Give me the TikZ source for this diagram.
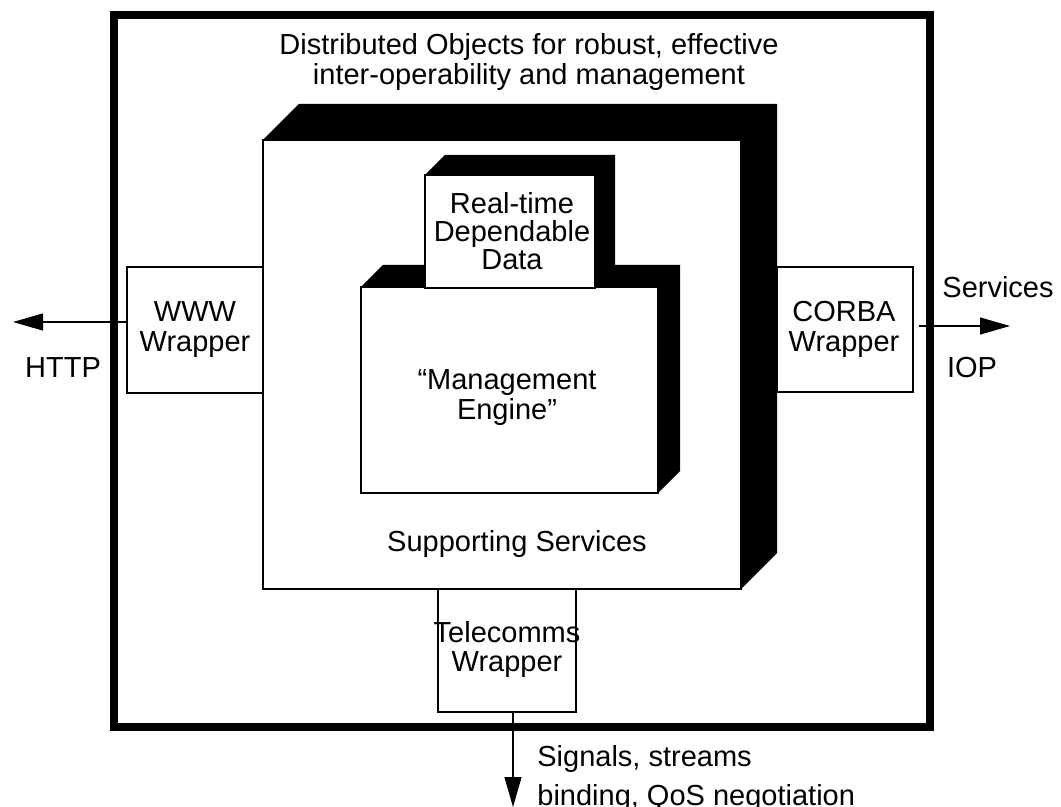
\documentclass[tikz,border=0pt]{standalone}
\usepackage{fontspec}
\setmainfont{Liberation Sans}
\usetikzlibrary{arrows.meta}
\usetikzlibrary{calc}
\usetikzlibrary{fit}

\begin{document}
\begin{tikzpicture}[x=0.5pt,y=-0.5pt]
   \tikzset{BoxStyle/.style={draw, fill=white, line width=0.55pt, inner sep=0pt}}
   \tikzset{TextStyle/.style={align=center, inner sep=0pt, font=\fontsize{14.5}{15}\selectfont}}
   \tikzset{ArrowStyle/.style={line width=0.55pt, -{Triangle[length=15pt,width=8.5pt]}}}
   \useasboundingbox (0,0) rectangle (1061,807);
   % outer frame
   \coordinate (frame nw) at (114,15.5);
   \coordinate (frame se) at (930,727);
   \node[draw, line width=4pt, inner sep=0pt, fit=(frame nw)(frame se)] (frame) {};
   \node[TextStyle] (title) at (529,62.5) {Distributed Objects for robust, effective\\inter-operability and management};
   % supporting services
   \coordinate (supp nw) at (263,140);
   \coordinate (supp se) at (741,589);
   \fill (supp nw) -- ++(36,-36) -| ($(supp se)+(36,-36)$) -- (supp se) -- cycle;
   \node[BoxStyle, fit=(supp nw)(supp se)] (supp) {};
   \node[TextStyle] (supp text) at (517,544) {Supporting Services};
   % management engine
   \coordinate (mgmt nw) at (361,287);
   \coordinate (mgmt se) at (658,493);
   \fill (mgmt nw) -- ++(22,-22) -| ($(mgmt se)+(22,-22)$) -- (mgmt se) -- cycle;
   \node[BoxStyle, fit=(mgmt nw)(mgmt se)] (mgmt) {};
   \node[TextStyle] (mgmt text) at (507,398) {“Management\\Engine”};
   % real-time data
   \coordinate (data nw) at (425,175);
   \coordinate (data se) at (595,288);
   \fill (data nw) -- ++(20,-20) -| ($(data se)+(20,-20)$) -- (data se) -- cycle;
   \node[BoxStyle, fit=(data nw)(data se)] (data) {};
   \node[TextStyle, font=\fontsize{14.5}{14}\selectfont] (data text) at (512,231) {Real-time\\Dependable\\Data};
   % wrappers
   \coordinate (www nw) at (127,267);
   \coordinate (www se) at (263,393);
   \node[BoxStyle, fit=(www nw)(www se)] (www) {};
   \node[TextStyle] (www text) at (www) {WWW\\Wrapper};
   \coordinate (corba nw) at (777,267);
   \coordinate (corba se) at (913,392);
   \node[BoxStyle, fit=(corba nw)(corba se)] (corba) {};
   \node[TextStyle] (corba text) at (844,329) {CORBA\\Wrapper};
   \coordinate (tele nw) at (438,589);
   \coordinate (tele se) at (576,712);
   \node[BoxStyle, fit=(tele nw)(tele se)] (tele) {};
   \node[TextStyle, font=\fontsize{14.5}{14.5}\selectfont] (tele text) at (507,650) {Telecomms\\Wrapper};
   % outputs
   \coordinate (http end) at (13,322);
   \coordinate (iop end) at (1010,326);
   \coordinate (sig end) at (513,807);
   \draw[ArrowStyle] (www.west |- http end) -- (http end);
   \draw[ArrowStyle] ([xshift=2.5pt]corba.east |- iop end) -- (iop end);
   \draw[ArrowStyle] (tele.south -| sig end) -- (sig end);
   \node[TextStyle] (http) at (63,367.5) {HTTP};
   \node[TextStyle] (services) at (998,287.5) {Services};
   \node[TextStyle] (iop) at (972,367.5) {IOP};
   \node[TextStyle, align=left, anchor=north west, font=\fontsize{14.5}{19.5}\selectfont] (signals) at (537,745) {Signals, streams\\binding, QoS negotiation};
\end{tikzpicture}
\end{document}
